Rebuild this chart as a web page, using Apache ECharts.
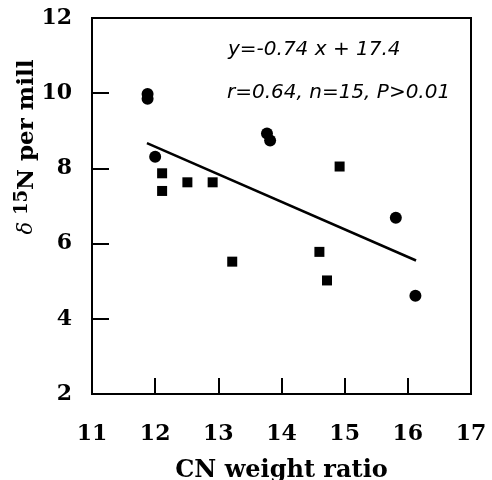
<!DOCTYPE html>
<html>
<head>
<meta charset="utf-8">
<script src="https://cdn.jsdelivr.net/npm/echarts@6/dist/echarts.min.js"></script>
<style>
html,body{margin:0;padding:0;background:#fff;}
#chart{width:492px;height:480px;}
</style>
</head>
<body>
<div id="chart"></div>
<script>
// Data
var circlePoints = [
  [11.88, 9.98], [11.88, 9.85], [12.00, 8.31], [13.77, 8.93],
  [13.82, 8.74], [15.81, 6.69], [16.12, 4.61]
];
var squarePoints = [
  [12.11, 7.87], [12.11, 7.40], [12.51, 7.63], [12.91, 7.63],
  [14.92, 8.05], [13.22, 5.52], [14.60, 5.78], [14.72, 5.02]
];
var fitLine = [[11.87, 8.67], [16.13, 5.55]];
var xTicks = [11, 12, 13, 14, 15, 16, 17];
var yTicks = [2, 4, 6, 8, 10, 12];
var equationText = 'y=-0.74 x + 17.4';
var statsText = 'r=0.64, n=15, P>0.01';
var xName = 'CN weight ratio';
var yNameParts = ['δ ', '15', 'N per mill'];

var chart = echarts.init(document.getElementById('chart'));
var serifBold = {fontFamily: 'DejaVu Serif', fontWeight: 'bold', fontSize: 22, color: '#000'};
chart.setOption({
  animation: false,
  backgroundColor: '#fff',
  grid: {left: 92, top: 18, width: 379, height: 376, containLabel: false, outerBoundsMode: 'none',
         show: true, borderColor: '#000', borderWidth: 2, backgroundColor: 'transparent'},
  xAxis: {
    type: 'value', min: xTicks[0], max: xTicks[xTicks.length - 1], interval: 1,
    axisLine: {show: true, lineStyle: {color: '#000', width: 2}},
    axisTick: {show: true, inside: true, length: 16, lineStyle: {color: '#000', width: 2}},
    splitLine: {show: false},
    axisLabel: Object.assign({margin: 29}, serifBold),
    name: xName, nameLocation: 'middle', nameGap: 65,
    nameTextStyle: {fontFamily: 'DejaVu Serif', fontWeight: 'bold', fontSize: 24, color: '#000'}
  },
  yAxis: {
    type: 'value', min: yTicks[0], max: yTicks[yTicks.length - 1], interval: 2,
    axisLine: {show: true, lineStyle: {color: '#000', width: 2}},
    axisTick: {show: true, inside: true, length: 17, lineStyle: {color: '#000', width: 2}},
    splitLine: {show: false},
    axisLabel: Object.assign({margin: 20}, serifBold)
  },
  graphic: [
    {type: 'text', x: 228, y: 50, style: {text: equationText, fontFamily: 'DejaVu Sans', fontStyle: 'italic', fontSize: 20, fill: '#000', verticalAlign: 'middle'}},
    {type: 'text', x: 227, y: 93, style: {text: statsText, fontFamily: 'DejaVu Sans', fontStyle: 'italic', fontSize: 20, fill: '#000', verticalAlign: 'middle'}},
    {type: 'text', x: 27, y: 147, rotation: Math.PI / 2, style: {
      text: '{d|' + yNameParts[0] + '}{s|' + yNameParts[1] + '}{n|' + yNameParts[2] + '}',
      align: 'center', verticalAlign: 'middle',
      rich: {
        d: {fontFamily: 'DejaVu Serif', fontStyle: 'italic', fontSize: 21, fill: '#000'},
        s: {fontFamily: 'DejaVu Serif', fontWeight: 'bold', fontSize: 18, fill: '#000', padding: [0, 0, 10, 0]},
        n: {fontFamily: 'DejaVu Serif', fontWeight: 'bold', fontSize: 23, fill: '#000'}
      }
    }}
  ],
  series: [
    {type: 'line', data: fitLine, symbol: 'none', lineStyle: {color: '#000', width: 2.5}, z: 1},
    {type: 'scatter', data: circlePoints, symbol: 'circle', symbolSize: 12, itemStyle: {color: '#000', opacity: 1}, z: 2},
    {type: 'scatter', data: squarePoints, symbol: 'rect', symbolSize: 10, itemStyle: {color: '#000', opacity: 1}, z: 2}
  ]
});
</script>
</body>
</html>
